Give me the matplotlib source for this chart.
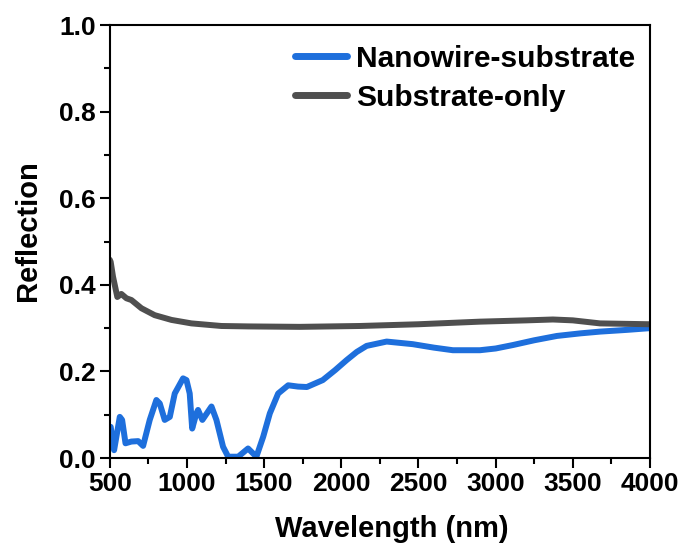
import matplotlib
matplotlib.use("Agg")
import matplotlib.pyplot as plt
import numpy as np
from matplotlib.ticker import MultipleLocator

plt.rcParams['font.family'] = ['Liberation Sans', 'DejaVu Sans']
plt.rcParams['font.weight'] = 'bold'

# Nanowire-substrate reflection
nw_wl = [506, 528, 565, 580, 602, 640, 684, 716, 759, 802, 824, 856, 889, 921, 975,
         997, 1018, 1034, 1061, 1072, 1100, 1159, 1191, 1234, 1267, 1332, 1396, 1450,
         1494, 1537, 1591, 1656, 1720, 1777, 1880, 1960, 2034, 2100, 2164, 2294, 2463,
         2600, 2723, 2898, 3000, 3112, 3250, 3397, 3550, 3676, 3850, 4000]
nw_r = [0.072, 0.018, 0.095, 0.088, 0.034, 0.038, 0.039, 0.028, 0.088, 0.134, 0.126,
        0.088, 0.095, 0.149, 0.184, 0.180, 0.149, 0.068, 0.103, 0.111, 0.088, 0.119,
        0.088, 0.026, 0.003, 0.003, 0.022, 0.003, 0.049, 0.103, 0.149, 0.168, 0.165,
        0.164, 0.180, 0.203, 0.226, 0.245, 0.259, 0.269, 0.263, 0.255, 0.249, 0.249,
        0.253, 0.261, 0.272, 0.282, 0.288, 0.292, 0.296, 0.300]

# Substrate-only reflection
sub_wl = [500, 506, 521, 549, 575, 608, 640, 705, 791, 900, 1029, 1223, 1400, 1731,
          2120, 2500, 2898, 3200, 3371, 3500, 3676, 4000]
sub_r = [0.458, 0.453, 0.419, 0.372, 0.379, 0.369, 0.365, 0.346, 0.330, 0.319, 0.311,
         0.305, 0.304, 0.303, 0.305, 0.309, 0.315, 0.318, 0.320, 0.318, 0.311, 0.309]

labels = ['Nanowire-substrate', 'Substrate-only']
colors = ['#1e6fdc', '#4f4f4f']

fig = plt.figure(figsize=(6.86, 5.47), dpi=100)
ax = fig.add_axes([0.160, 0.1627, 0.7875, 0.7913])

ax.plot(nw_wl, nw_r, color=colors[0], lw=4.3, label=labels[0],
        solid_capstyle='round', solid_joinstyle='round')
ax.plot(sub_wl, sub_r, color=colors[1], lw=4.3, label=labels[1],
        solid_capstyle='round', solid_joinstyle='round')

ax.set_xlim(500, 4000)
ax.set_ylim(0, 1.0)
ax.set_xticks(np.arange(500, 4001, 500))
ax.set_yticks(np.arange(0, 1.01, 0.2))
ax.xaxis.set_minor_locator(MultipleLocator(250))
ax.yaxis.set_minor_locator(MultipleLocator(0.1))
ax.set_yticklabels(['%.1f' % v for v in np.arange(0, 1.01, 0.2)])

for s in ax.spines.values():
    s.set_linewidth(1.5)
ax.tick_params(which='both', direction='out', top=False, right=False, width=1.5)
ax.tick_params(which='major', length=7, labelsize=19, pad=3)
ax.tick_params(which='minor', length=4)
for lab in ax.get_xticklabels() + ax.get_yticklabels():
    lab.set_fontweight('bold')

ax.set_xlabel('Wavelength (nm)', fontsize=21, fontweight='bold', labelpad=14)
ax.set_ylabel('Reflection', fontsize=21, fontweight='bold', labelpad=12)
ax.xaxis.label.set_x(0.522)
ax.yaxis.label.set_y(0.525)

leg = ax.legend(loc='upper left', bbox_to_anchor=(0.342, 0.955), frameon=False,
                prop={'size': 21.5, 'weight': 'bold'}, handlelength=1.75,
                handletextpad=0.3, labelspacing=0.37, borderpad=0, borderaxespad=0)
for h in leg.get_lines():
    h.set_linewidth(5)
    h.set_solid_capstyle('round')

fig.savefig('out.png', dpi=100)
